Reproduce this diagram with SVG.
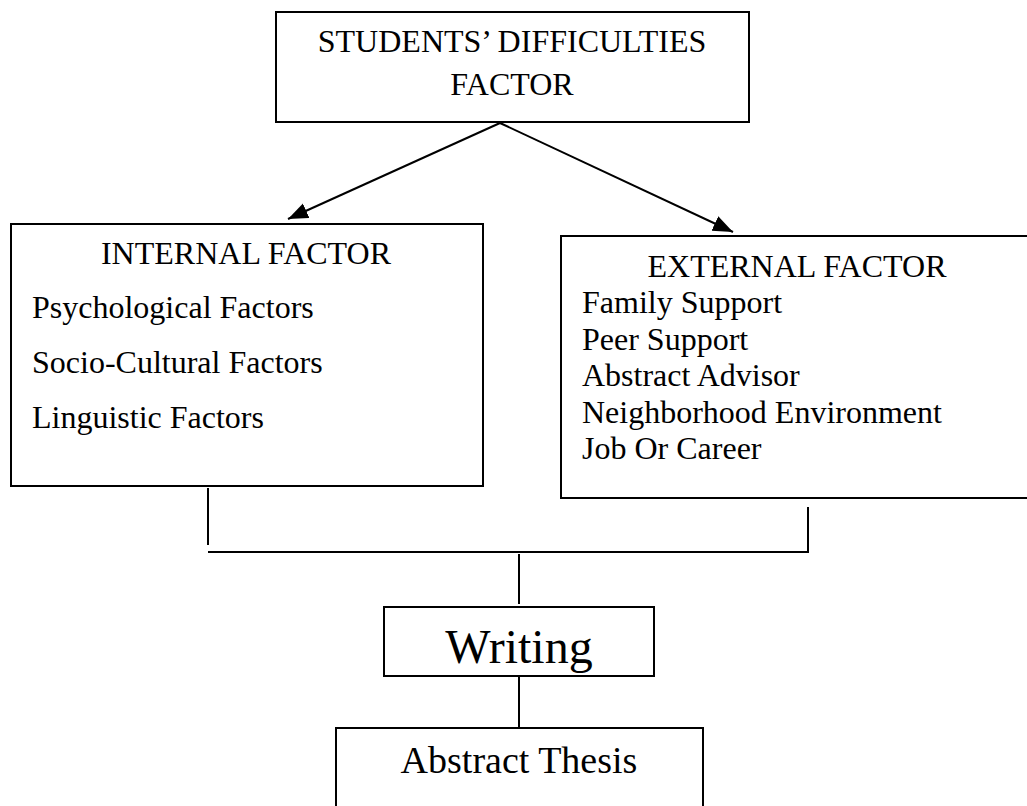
<svg xmlns="http://www.w3.org/2000/svg" width="1027" height="806" viewBox="0 0 1027 806">
<style>
.box{fill:#fff;stroke:#000;stroke-width:2}
.ln{fill:none;stroke:#000;stroke-width:2}
text{font-family:"Liberation Serif","Times New Roman",serif;fill:#000}
.t32{font-size:32px}
.c{text-anchor:middle}
</style>
<defs>
<marker id="ah" markerUnits="userSpaceOnUse" markerWidth="22" markerHeight="18" refX="20" refY="8" orient="auto">
<path d="M0,0 L20,8 L0,16 Z" fill="#000"/>
</marker>
</defs>
<rect width="1027" height="806" fill="#fff"/>
<g id="connectors">
<line class="ln" x1="500" y1="123" x2="288" y2="219" marker-end="url(#ah)"/>
<line class="ln" x1="500" y1="123" x2="733" y2="232" marker-end="url(#ah)"/>
<line class="ln" x1="208" y1="488" x2="208" y2="545"/>
<polyline class="ln" points="208,552 808,552 808,507"/>
<line class="ln" x1="519" y1="554" x2="519" y2="604"/>
<line class="ln" x1="519" y1="676" x2="519" y2="728"/>
</g>
<g id="top">
<rect class="box" x="276" y="12" width="473" height="110"/>
<text class="t32 c" x="512" y="52">STUDENTS’ DIFFICULTIES</text>
<text class="t32 c" x="512" y="95">FACTOR</text>
</g>
<g id="internal">
<rect class="box" x="11" y="224" width="472" height="262"/>
<text class="t32 c" x="246" y="264">INTERNAL FACTOR</text>
<text class="t32" x="32" y="318">Psychological Factors</text>
<text class="t32" x="32" y="373">Socio-Cultural Factors</text>
<text class="t32" x="32" y="428">Linguistic Factors</text>
</g>
<g id="external">
<rect class="box" x="561" y="236" width="480" height="262"/>
<text class="t32 c" x="797" y="277">EXTERNAL FACTOR</text>
<text class="t32" x="582" y="313">Family Support</text>
<text class="t32" x="582" y="350">Peer Support</text>
<text class="t32" x="582" y="386">Abstract Advisor</text>
<text class="t32" x="582" y="423">Neighborhood Environment</text>
<text class="t32" x="582" y="459">Job Or Career</text>
</g>
<g id="writing">
<rect class="box" x="384" y="607" width="270" height="69"/>
<text class="c" x="519" y="663" style="font-size:48px">Writing</text>
</g>
<g id="abstract">
<polyline class="ln" points="336,806 336,728 703,728 703,806"/>
<text class="c" x="519" y="773" style="font-size:38px">Abstract Thesis</text>
</g>
</svg>
